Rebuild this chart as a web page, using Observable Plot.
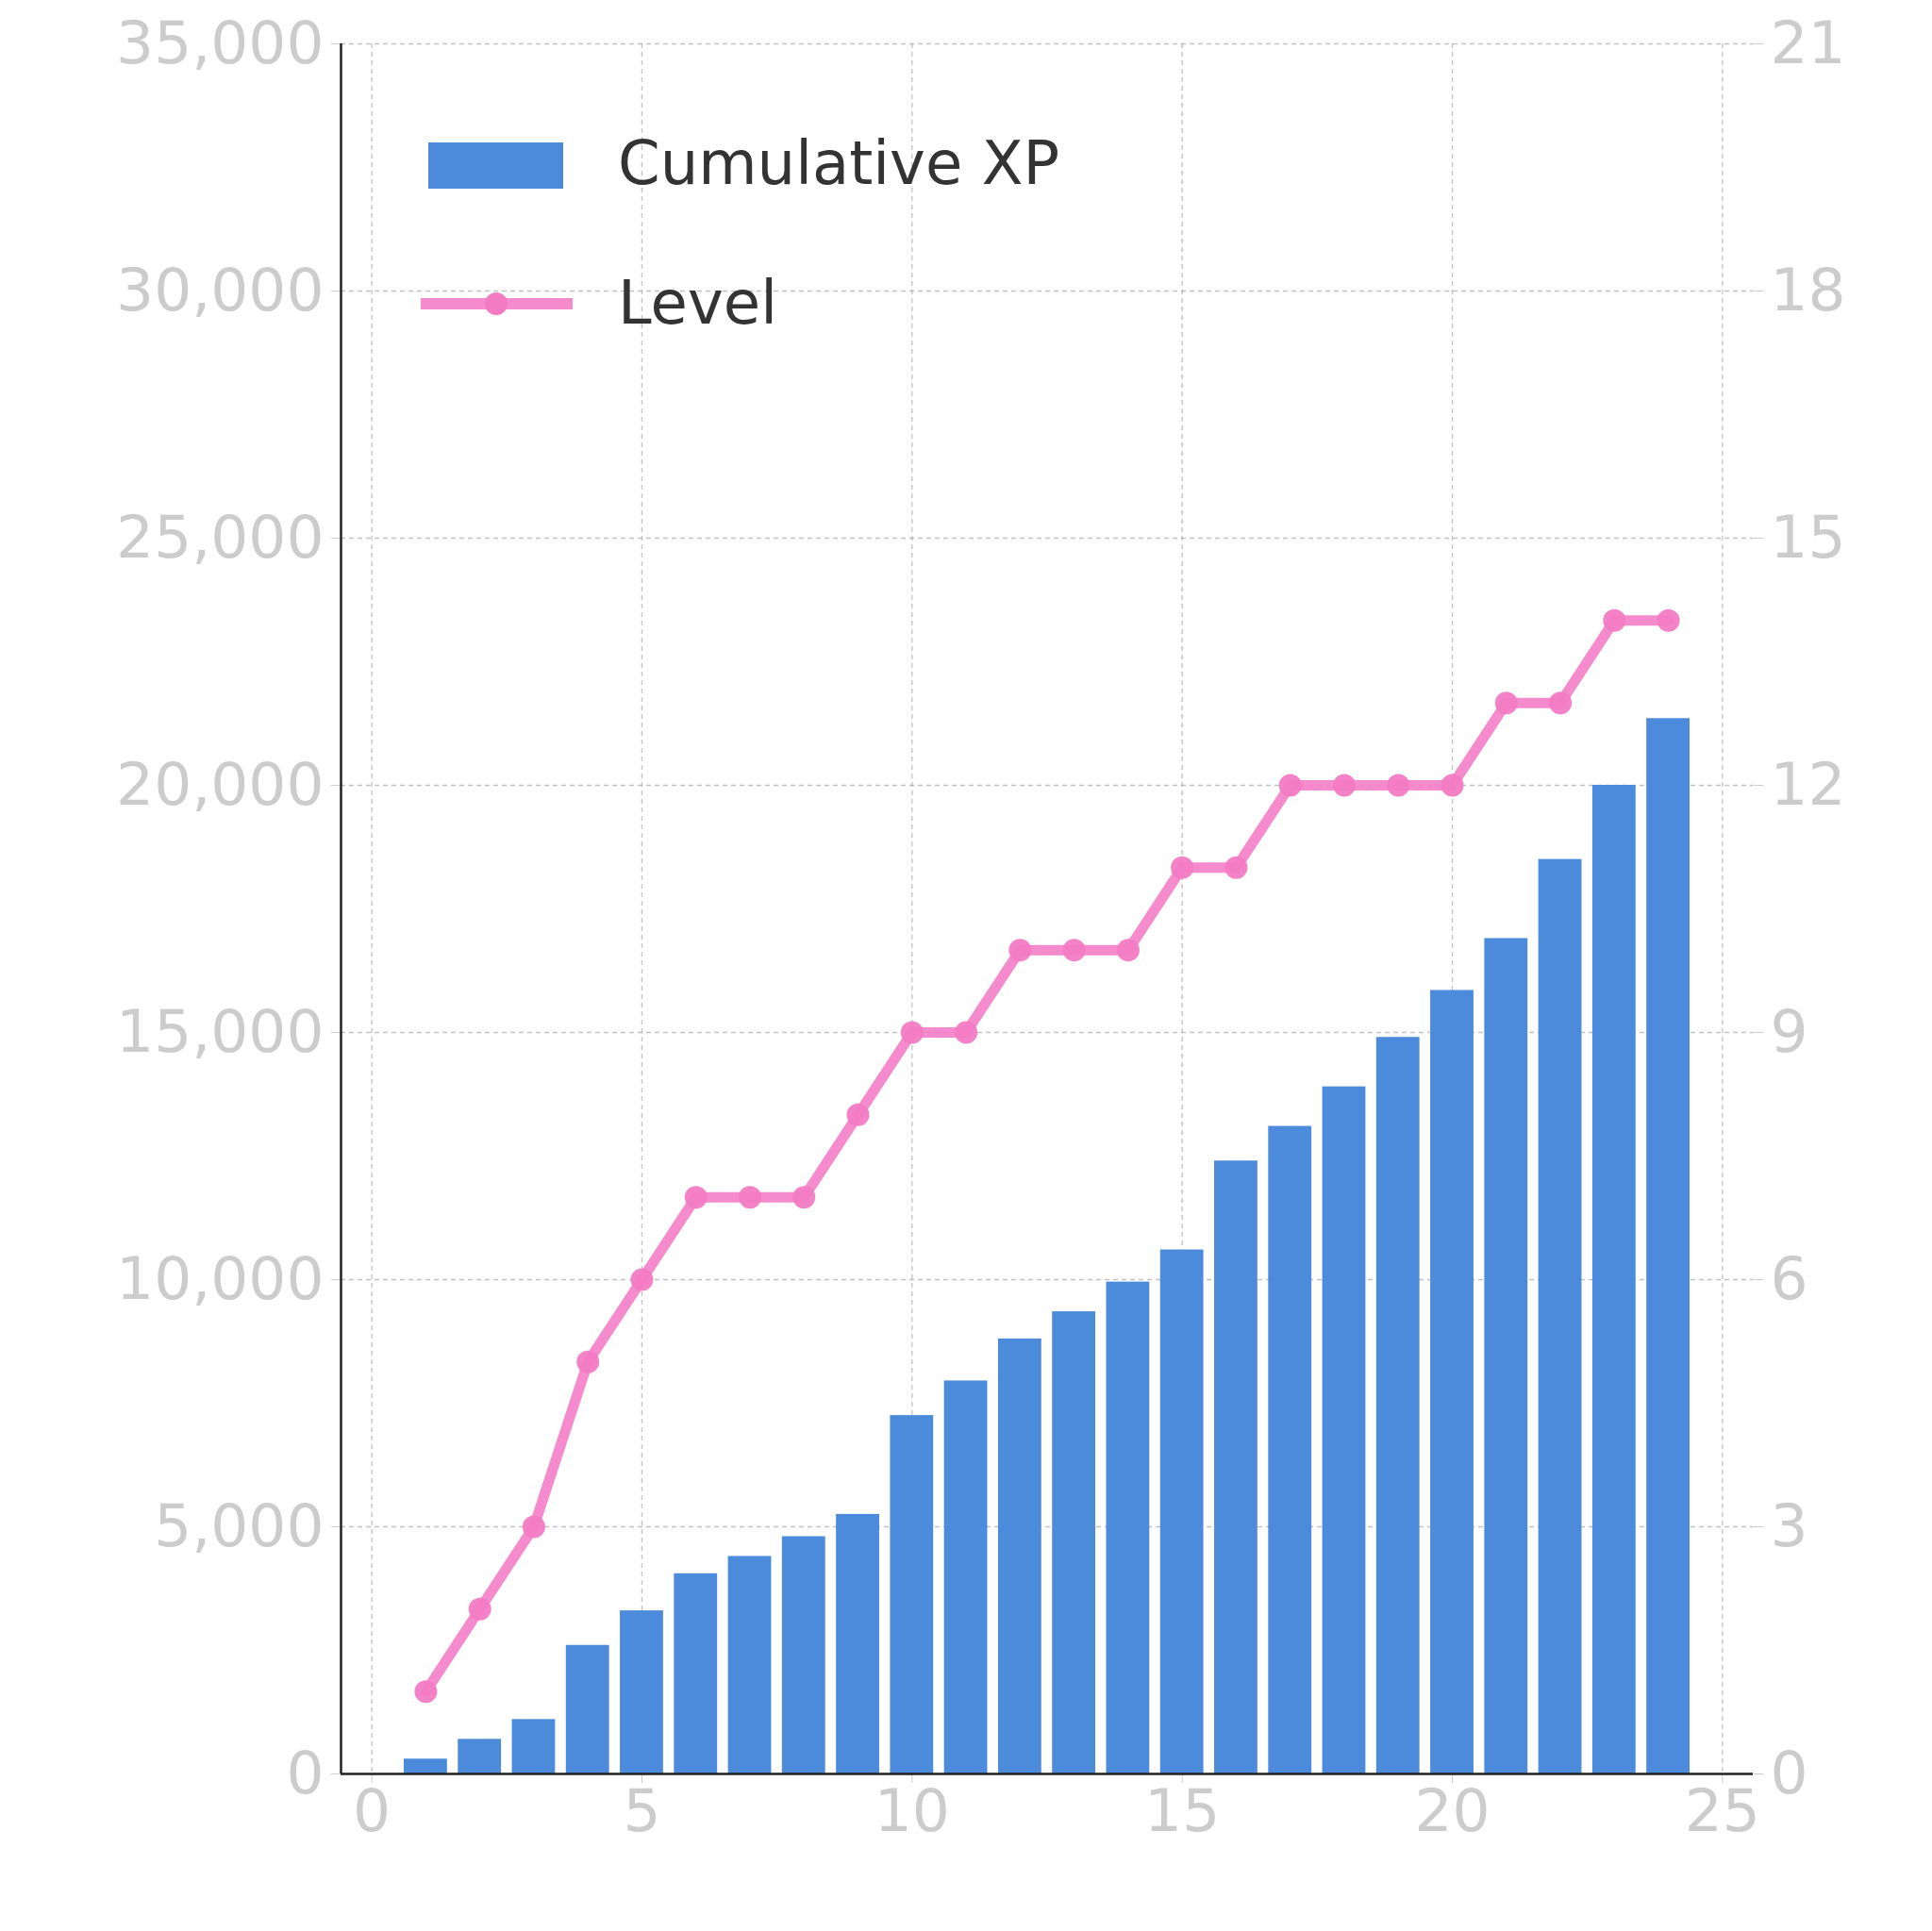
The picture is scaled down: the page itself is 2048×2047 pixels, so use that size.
<!DOCTYPE html>
<html><head><meta charset="utf-8">
<script src="https://cdn.jsdelivr.net/npm/d3@7"></script>
<script src="https://cdn.jsdelivr.net/npm/@observablehq/plot@0.6"></script>
<style>body{margin:0;background:#fff;font-family:"DejaVu Sans",sans-serif}#wrap{position:relative;width:2048px;height:2047px}
.lg{position:absolute;font-size:64px;color:#333}</style>
</head><body><div id="wrap"></div>
<script>
const sessions=[1,2,3,4,5,6,7,8,9,10,11,12,13,14,15,16,17,18,19,20,21,22,23,24];
const cumulativeXP=[300,700,1100,2600,3300,4050,4400,4800,5250,7250,7950,8800,9350,9950,10600,12400,13100,13900,14900,15850,16900,18500,20000,21350];
const level=[1,2,3,5,6,7,7,7,8,9,9,10,10,10,11,11,12,12,12,12,13,13,14,14];
const yTicks=[0,5000,10000,15000,20000,25000,30000,35000];
const xTicks=[0,5,10,15,20,25];
const k=35000/21;
const bars=sessions.map((s,i)=>({s,xp:cumulativeXP[i]}));
const lv=sessions.map((s,i)=>({s,v:level[i]*k}));
const grid={stroke:"#999",strokeOpacity:0.6,strokeDasharray:"5,4",strokeWidth:1.3};
const chart=Plot.plot({
  width:2048,height:2047,marginLeft:361,marginRight:190,marginTop:46,marginBottom:167,
  style:{fontSize:"63px",fontFamily:"DejaVu Sans",color:"#ccc",background:"white"},
  x:{domain:[-0.57,25.57]},
  y:{domain:[0,35000]},
  marks:[
    Plot.gridX(xTicks,grid),
    Plot.gridY(yTicks,grid),
    Plot.rectY(bars,{x1:d=>d.s-0.4,x2:d=>d.s+0.4,y:"xp",fill:"#4C8BDB"}),
    Plot.line(lv,{x:"s",y:"v",stroke:"#F47EC6",strokeOpacity:0.9,strokeWidth:11}),
    Plot.dot(lv,{x:"s",y:"v",r:12,fill:"#F27BC4",fillOpacity:0.95}),
    Plot.axisY(yTicks,{anchor:"left",tickFormat:d=>d3.format(",")(d),tickSize:10,tickPadding:8,stroke:"#ccc",fill:"#ccc",label:null}),
    Plot.axisY(yTicks,{anchor:"right",tickFormat:d=>Math.round(d/k),tickSize:10,tickPadding:8,stroke:"#ccc",fill:"#ccc",label:null}),
    Plot.axisX(xTicks,{tickSize:10,tickPadding:6,stroke:"#ccc",fill:"#ccc",label:null}),
    Plot.ruleX([-0.57],{stroke:"#222",strokeWidth:2.5}),
    Plot.ruleY([0],{stroke:"#222",strokeWidth:2.5})
  ]
});
const w=document.getElementById("wrap");
w.appendChild(chart);
w.insertAdjacentHTML("beforeend",`
<div style="position:absolute;left:454px;top:151px;width:143px;height:49px;background:#4C8BDB"></div>
<div class="lg" style="left:655px;top:136px">Cumulative XP</div>
<div style="position:absolute;left:446px;top:316px;width:161px;height:12px;background:#F47EC6;opacity:.9"></div>
<div style="position:absolute;left:514px;top:310px;width:24px;height:24px;border-radius:50%;background:#F27BC4"></div>
<div class="lg" style="left:655px;top:284px">Level</div>`);
</script></body></html>
